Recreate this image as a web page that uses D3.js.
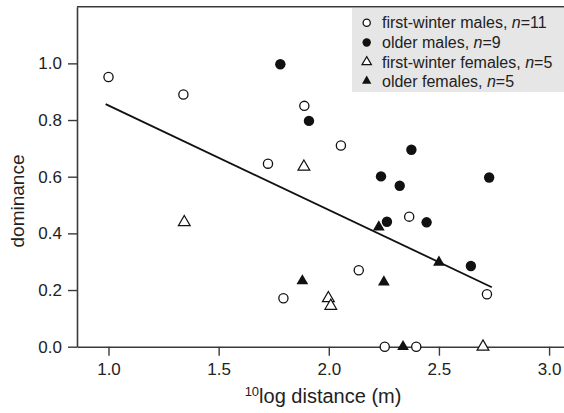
<!DOCTYPE html>
<html>
<head>
<meta charset="utf-8">
<script src="https://cdn.jsdelivr.net/npm/d3@7"></script>
<style>
    body { margin: 0; background: #fff; }
    svg { display: block; font-family: "Liberation Sans", Arial, sans-serif; }
</style>
</head>
<body>
<div id="canvas"></div>
<script>
"use strict";

let svgWidth = 564;
let svgHeight = 413;

/* ---------------- DATA ---------------- */

// first-winter males (open circles)
let fwMalesX = [1.00, 1.34, 1.889, 2.055, 1.724, 1.794, 2.136, 2.365, 2.718, 2.254, 2.397];
let fwMalesY = [0.952, 0.89, 0.85, 0.71, 0.646, 0.171, 0.27, 0.459, 0.185, 0.0, 0.0];

// older males (filled circles)
let oldMalesX = [1.78, 1.91, 2.237, 2.375, 2.322, 2.728, 2.264, 2.444, 2.645];
let oldMalesY = [0.997, 0.797, 0.601, 0.695, 0.568, 0.597, 0.441, 0.439, 0.285];

// first-winter females (open triangles)
let fwFemalesX = [1.887, 1.344, 1.998, 2.009, 2.70];
let fwFemalesY = [0.635, 0.439, 0.171, 0.144, 0.0];

// older females (filled triangles)
let oldFemalesX = [1.88, 2.227, 2.50, 2.25, 2.337];
let oldFemalesY = [0.232, 0.422, 0.298, 0.228, 0.0];

// fitted line end points
let fitX = [0.987, 2.74];
let fitY = [0.856, 0.21];

let xTicks = [1.0, 1.5, 2.0, 2.5, 3.0];
let yTicks = [0.0, 0.2, 0.4, 0.6, 0.8, 1.0];

let legendLabels = ["first-winter males, ", "older males, ", "first-winter females, ", "older females, "];
let legendCounts = [11, 9, 5, 5];

/* ---------------- SVG ---------------- */

let svg = d3.select("#canvas")
    .append("svg")
    .attr("width", svgWidth)
    .attr("height", svgHeight);

let axisColor = "#3a3a3a";
let textColor = "#222";

let xScale = d3.scaleLinear()
    .domain([0.857, 3.07])
    .range([77, 564.5]);

let yScale = d3.scaleLinear()
    .domain([0, 1.2])
    .range([346.7, 6.7]);

/* --- top frame line --- */
svg.append("line")
    .attr("x1", xScale.range()[0])
    .attr("x2", svgWidth)
    .attr("y1", yScale(1.2))
    .attr("y2", yScale(1.2))
    .attr("stroke", axisColor)
    .attr("stroke-width", 1.6);

/* --- legend box --- */
let legend = svg.append("g");

legend.append("rect")
    .attr("x", 352)
    .attr("y", 8)
    .attr("width", svgWidth - 352)
    .attr("height", 84)
    .attr("fill", "#e6e6e7");

/* --- axes --- */
let xAxis = d3.axisBottom(xScale)
    .tickValues(xTicks)
    .tickFormat(d3.format(".1f"))
    .tickSize(9)
    .tickSizeOuter(0)
    .tickPadding(7);

let yAxis = d3.axisLeft(yScale)
    .tickValues(yTicks)
    .tickFormat(d3.format(".1f"))
    .tickSize(9)
    .tickSizeOuter(0)
    .tickPadding(6);

let gx = svg.append("g")
    .attr("transform", "translate(0," + yScale(0) + ")")
    .call(xAxis);

let gy = svg.append("g")
    .attr("transform", "translate(" + xScale.range()[0] + ",0)")
    .call(yAxis);

[gx, gy].forEach(function (g) {
    g.select(".domain").attr("stroke", axisColor).attr("stroke-width", 1.6);
    g.selectAll(".tick line").attr("stroke", axisColor).attr("stroke-width", 1.4);
    g.selectAll(".tick text")
        .attr("fill", textColor)
        .attr("font-size", "17px")
        .attr("font-family", "Liberation Sans, Arial, sans-serif");
});

/* --- axis titles --- */
let xTitle = svg.append("text")
    .attr("x", 323)
    .attr("y", 403)
    .attr("text-anchor", "middle")
    .attr("fill", textColor)
    .attr("font-size", "20px");

xTitle.append("tspan")
    .attr("font-size", "13px")
    .attr("dy", "-7")
    .text("10");

xTitle.append("tspan")
    .attr("dy", "7")
    .text("log distance (m)");

svg.append("text")
    .attr("transform", "translate(24,201) rotate(-90)")
    .attr("text-anchor", "middle")
    .attr("fill", textColor)
    .attr("font-size", "19px")
    .text("dominance");

/* --- fitted line --- */
svg.append("line")
    .attr("x1", xScale(fitX[0]))
    .attr("y1", yScale(fitY[0]))
    .attr("x2", xScale(fitX[1]))
    .attr("y2", yScale(fitY[1]))
    .attr("stroke", "#111")
    .attr("stroke-width", 1.8);

/* ---------------- MARKERS ---------------- */

let markLayer = svg.append("g");

function drawMark(layer, kind, x, y, big) {
    let open = kind === "openCircle" || kind === "openTriangle";
    let fill = open ? "#fff" : "#111";
    let stroke = "#111";

    if (kind === "openCircle" || kind === "filledCircle") {
        layer.append("circle")
            .attr("cx", x)
            .attr("cy", y)
            .attr("r", big ? (open ? 4.6 : 5.2) : (open ? 3.6 : 4.2))
            .attr("fill", fill)
            .attr("stroke", open ? stroke : "none")
            .attr("stroke-width", 1.3);
    } else {
        let size = big ? 60 : 38;
        layer.append("path")
            .attr("d", d3.symbol().type(d3.symbolTriangle).size(size)())
            .attr("transform", "translate(" + x + "," + y + ")")
            .attr("fill", fill)
            .attr("stroke", open ? stroke : "none")
            .attr("stroke-width", 1.2);
    }
}

let groups = [
    { kind: "openCircle", xs: fwMalesX, ys: fwMalesY },
    { kind: "filledCircle", xs: oldMalesX, ys: oldMalesY },
    { kind: "openTriangle", xs: fwFemalesX, ys: fwFemalesY },
    { kind: "filledTriangle", xs: oldFemalesX, ys: oldFemalesY }
];

groups.forEach(function (grp) {
    grp.xs.forEach(function (xv, i) {
        drawMark(markLayer, grp.kind, xScale(xv), yScale(grp.ys[i]), true);
    });
});

/* --- legend entries --- */
let legendY = [22.7, 42.5, 62, 81];

groups.forEach(function (grp, i) {
    drawMark(legend, grp.kind, 366.7, legendY[i], false);

    let t = legend.append("text")
        .attr("x", 382)
        .attr("y", legendY[i])
        .attr("dy", "0.35em")
        .attr("fill", textColor)
        .attr("font-size", "16px");

    t.append("tspan").text(legendLabels[i]);
    t.append("tspan").attr("font-style", "italic").text("n");
    t.append("tspan").text("=" + legendCounts[i]);
});
</script>
</body>
</html>
